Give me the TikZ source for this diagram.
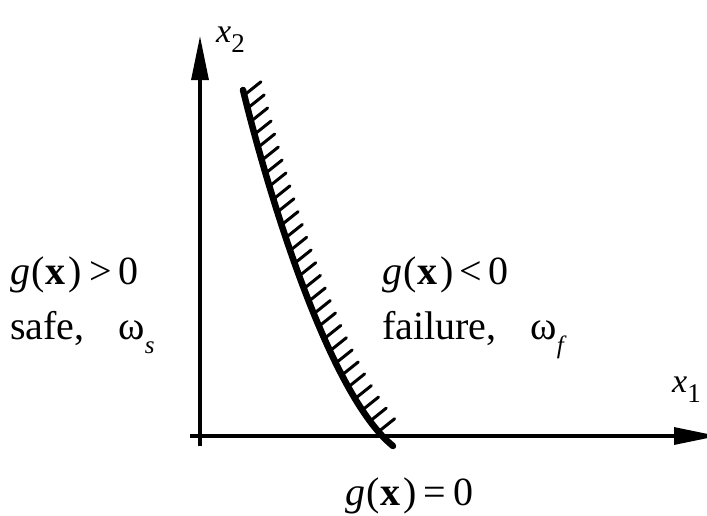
\documentclass[tikz,border=0pt]{standalone}
\usepackage{fontspec}
\setmainfont{Liberation Serif}
\usetikzlibrary{arrows.meta,decorations.markings}
\newcommand{\gx}{\textit{g}\kern1pt(\kern1pt\textbf{x}\kern3pt)}
\begin{document}
\begin{tikzpicture}[x=1pt,y=-1pt,
  axis/.style={line width=3.2pt,-{Triangle[length=44pt,width=17pt]}},
  curveline/.style={line width=6.5pt,line cap=round},
  hatchtick/.style={line width=3pt,line cap=round},
  lab/.style={anchor=base west,inner sep=0pt,font=\fontsize{40}{42}\selectfont},
  axlab/.style={anchor=base west,inner sep=0pt,font=\fontsize{34}{36}\selectfont}]
\useasboundingbox (0,0) rectangle (707,515);
% axes
\coordinate (yb) at (200,446);
\coordinate (yt) at (200,36);
\coordinate (xl) at (190,436);
\coordinate (xr) at (718,436);
\draw[axis] (yb) -- (yt);
\draw[axis] (xl) -- (xr);
% limit state curve
\coordinate (c0) at (243,90);
\coordinate (c1) at (270,200);
\coordinate (c2) at (330,395);
\coordinate (c3) at (393,446);
\draw[curveline,
  postaction={decorate,decoration={markings,
    mark=between positions 0.01 and 0.97 step 13.5pt with {
      \pgftransformresetnontranslations
      \draw[hatchtick] (2pt,0pt) -- (17pt,12pt);}}}]
  (c0) .. controls (c1) and (c2) .. (c3);
% labels
\node[axlab] (x2) at (216,42) {\textit{x}\raisebox{-0.3em}{\fontsize{27}{28}\selectfont 2}};
\node[axlab] (x1) at (672,392) {\textit{x}\raisebox{-0.3em}{\fontsize{27}{28}\selectfont 1}};
\node[lab] (gpos) at (10,284) {\gx\kern8pt>\kern6pt0};
\node[lab] (safe) at (10,339) {safe,\hspace{0.85em}ω\raisebox{-0.35em}{\fontsize{25}{26}\selectfont\textit{s}}};
\node[lab] (gneg) at (382,284) {\gx\kern6pt<\kern6pt0};
\node[lab] (fail) at (382,339) {failure,\hspace{0.85em}ω\raisebox{-0.35em}{\fontsize{25}{26}\selectfont\textit{f}}};
\node[lab] (gzero) at (345,505) {\gx\kern7pt=\kern7pt0};
\end{tikzpicture}
\end{document}
